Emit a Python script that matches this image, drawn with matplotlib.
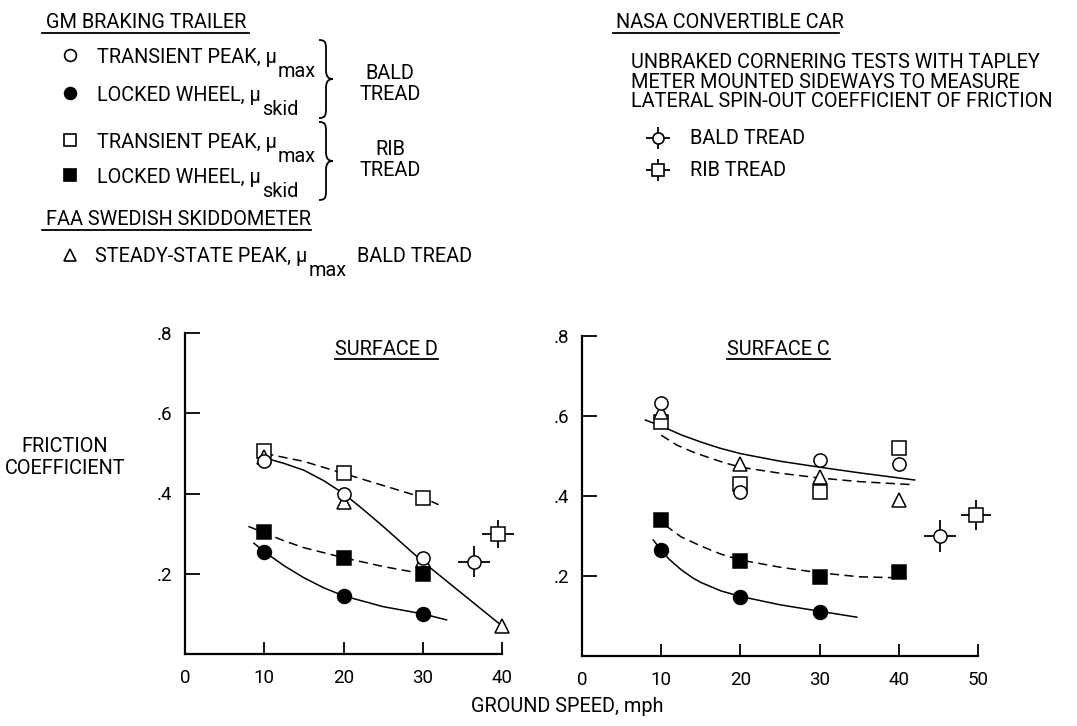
import matplotlib
matplotlib.use("Agg")
import matplotlib.pyplot as plt
from matplotlib.path import Path
from matplotlib.patches import PathPatch

FONT = ['Roboto', 'DejaVu Sans']
plt.rcParams['font.family'] = FONT
plt.rcParams['font.size'] = 14.3

# ---- Surface D ----
speed_d = [10, 20, 30]
d_bald_peak = [0.48, 0.40, 0.24]
d_bald_skid = [0.255, 0.145, 0.10]
d_rib_peak = [0.505, 0.45, 0.39]
d_rib_skid = [0.305, 0.24, 0.20]
speed_d_faa = [10, 20, 30, 40]
d_faa_peak = [0.49, 0.38, 0.235, 0.07]
# NASA car: speed, mu, speed spread, mu spread
d_nasa_bald = [36.5, 0.23, 2.0, 0.038]
d_nasa_rib = [39.5, 0.30, 2.0, 0.035]

# faired curves, surface D
d_curve_peak_x = [9.5, 12.5, 15, 17.5, 20, 22.5, 25, 27.5, 30, 35, 40]
d_curve_peak_y = [0.492, 0.475, 0.458, 0.432, 0.40, 0.36, 0.318, 0.274, 0.23, 0.15, 0.07]
d_curve_ribpk_x = [10, 15, 20, 25, 30, 32]
d_curve_ribpk_y = [0.50, 0.48, 0.45, 0.42, 0.39, 0.372]
d_curve_ribsk_x = [8, 10, 12.5, 15, 20, 25, 30]
d_curve_ribsk_y = [0.318, 0.302, 0.282, 0.265, 0.24, 0.218, 0.20]
d_curve_skid_x = [8.7, 10, 12.5, 15, 17.5, 20, 25, 30, 33]
d_curve_skid_y = [0.276, 0.255, 0.22, 0.19, 0.165, 0.145, 0.118, 0.10, 0.085]

# ---- Surface C ----
speed_c = [10, 20, 30, 40]
c_bald_peak = [0.632, 0.41, 0.49, 0.48]
speed_c_skid = [10, 20, 30]
c_bald_skid = [0.265, 0.148, 0.11]
c_rib_peak = [0.585, 0.43, 0.41, 0.52]
c_rib_skid = [0.34, 0.237, 0.197, 0.21]
c_faa_peak = [0.61, 0.48, 0.447, 0.39]
c_nasa_bald = [45.2, 0.30, 2.0, 0.04]
c_nasa_rib = [49.8, 0.352, 1.9, 0.037]

c_curve_peak_x = [8, 10, 12.5, 15, 17.5, 20, 25, 30, 35, 42]
c_curve_peak_y = [0.59, 0.575, 0.553, 0.535, 0.519, 0.506, 0.487, 0.472, 0.458, 0.44]
c_curve_faa_x = [10, 12, 14, 16, 18, 20, 25, 30, 35, 42]
c_curve_faa_y = [0.552, 0.527, 0.51, 0.496, 0.483, 0.472, 0.457, 0.445, 0.436, 0.428]
c_curve_ribsk_x = [10.5, 12.5, 15, 17.5, 20, 25, 30, 35, 41]
c_curve_ribsk_y = [0.327, 0.298, 0.275, 0.255, 0.24, 0.222, 0.208, 0.198, 0.195]
c_curve_skid_x = [9, 10, 11, 12.5, 14, 15, 17.5, 20, 25, 30, 34.7]
c_curve_skid_y = [0.29, 0.264, 0.242, 0.216, 0.195, 0.184, 0.163, 0.149, 0.128, 0.112, 0.097]

LW = 1.1
DASH = (0, (6, 3.5))
MS = 9.5


def style_axes(ax, xmax, xticks):
    ax.set_xlim(0, xmax)
    ax.set_ylim(0, 0.8)
    for side in ['top', 'right']:
        ax.spines[side].set_visible(False)
    for side in ['left', 'bottom']:
        ax.spines[side].set_linewidth(1.6)
    ax.set_xticks(xticks)
    ax.set_xticklabels([str(t) for t in xticks])
    ax.set_yticks([0.2, 0.4, 0.6, 0.8])
    ax.set_yticklabels(['.2', '.4', '.6', '.8'])
    ax.tick_params(axis='x', direction='in', length=9, width=1.3, pad=11, labelsize=13.5)
    ax.tick_params(axis='y', direction='in', length=11, width=1.3, pad=9, labelsize=13.5)
    ax.patch.set_visible(False)


def draw_points(ax, x, y, marker, filled):
    face = 'black' if filled else 'white'
    ax.plot(x, y, ls='none', marker=marker, ms=MS + (0.5 if filled else 0), mfc=face,
            mec='black', mew=1.1, clip_on=False, zorder=4)


def draw_nasa(ax, pt, marker):
    ax.errorbar(pt[0], pt[1], xerr=pt[2], yerr=pt[3], fmt=marker, ms=MS, mfc='white',
                mec='black', mew=1.1, ecolor='black', elinewidth=1.3, capsize=0,
                clip_on=False, zorder=4)


fig = plt.figure(figsize=(10.77, 7.26), dpi=100)

# overlay in pixel units for the key and free labels
ov = fig.add_axes([0, 0, 1, 1])
ov.set_xlim(0, 1077)
ov.set_ylim(726, 0)
ov.axis('off')

ax_d = fig.add_axes([185 / 1077, 1 - 654 / 726, 317 / 1077, 321 / 726])
ax_c = fig.add_axes([582 / 1077, 1 - 656 / 726, 396 / 1077, 320 / 726])

# ---- Surface D ----
ax_d.plot(d_curve_peak_x, d_curve_peak_y, color='black', lw=LW, clip_on=False)
ax_d.plot(d_curve_ribpk_x, d_curve_ribpk_y, color='black', lw=LW, ls=DASH)
ax_d.plot(d_curve_ribsk_x, d_curve_ribsk_y, color='black', lw=LW, ls=DASH)
ax_d.plot(d_curve_skid_x, d_curve_skid_y, color='black', lw=LW)
draw_points(ax_d, speed_d, d_rib_peak, 's', False)
draw_points(ax_d, speed_d_faa, d_faa_peak, '^', False)
draw_points(ax_d, speed_d, d_bald_peak, 'o', False)
draw_points(ax_d, speed_d, d_rib_skid, 's', True)
draw_points(ax_d, speed_d, d_bald_skid, 'o', True)
draw_nasa(ax_d, d_nasa_bald, 'o')
draw_nasa(ax_d, d_nasa_rib, 's')
style_axes(ax_d, 40, [0, 10, 20, 30, 40])

# ---- Surface C ----
ax_c.plot(c_curve_peak_x, c_curve_peak_y, color='black', lw=LW)
ax_c.plot(c_curve_faa_x, c_curve_faa_y, color='black', lw=LW, ls=DASH)
ax_c.plot(c_curve_ribsk_x, c_curve_ribsk_y, color='black', lw=LW, ls=DASH)
ax_c.plot(c_curve_skid_x, c_curve_skid_y, color='black', lw=LW)
draw_points(ax_c, speed_c, c_rib_peak, 's', False)
draw_points(ax_c, speed_c, c_faa_peak, '^', False)
draw_points(ax_c, speed_c, c_bald_peak, 'o', False)
draw_points(ax_c, speed_c, c_rib_skid, 's', True)
draw_points(ax_c, speed_c_skid, c_bald_skid, 'o', True)
draw_nasa(ax_c, c_nasa_bald, 'o')
draw_nasa(ax_c, c_nasa_rib, 's')
style_axes(ax_c, 50, [0, 10, 20, 30, 40, 50])

# ---- free labels ----
ov.text(386, 355, 'SURFACE D', ha='center', va='baseline')
ov.plot([335, 438], [359, 359], color='black', lw=1.3)
ov.text(778, 355, 'SURFACE C', ha='center', va='baseline')
ov.plot([727, 830], [359, 359], color='black', lw=1.3)
ov.text(65, 458, 'FRICTION\nCOEFFICIENT', ha='center', va='center', linespacing=1.2)
ov.text(567, 706, 'GROUND SPEED, mph', ha='center', va='center')

renderer = fig.canvas.get_renderer()


def text_sub(x, y, main, sub, tail=None, tail_x=None):
    t = ov.text(x, y, main, ha='left', va='baseline')
    x_end = t.get_window_extent(renderer).x1
    s = ov.text(x_end + 1, y + 14, sub, ha='left', va='baseline')
    if tail:
        ov.text(tail_x, y, tail, ha='left', va='baseline')
    return s


def brace(x0, y0, y1, w):
    ym = (y0 + y1) / 2
    q = 9
    xm = x0 + w / 2
    verts = [(x0, y0), (xm * 0.5 + x0 * 0.5 + w * 0.2, y0), (xm, y0 + q * 0.3), (xm, y0 + q),
             (xm, ym - q),
             (xm, ym - q * 0.3), (x0 + w * 0.65, ym), (x0 + w, ym),
             (x0 + w * 0.65, ym), (xm, ym + q * 0.3), (xm, ym + q),
             (xm, y1 - q),
             (xm, y1 - q * 0.3), (xm * 0.5 + x0 * 0.5 + w * 0.2, y1), (x0, y1)]
    codes = [Path.MOVETO, Path.CURVE4, Path.CURVE4, Path.CURVE4, Path.LINETO,
             Path.CURVE4, Path.CURVE4, Path.CURVE4,
             Path.CURVE4, Path.CURVE4, Path.CURVE4, Path.LINETO,
             Path.CURVE4, Path.CURVE4, Path.CURVE4]
    ov.add_patch(PathPatch(Path(verts, codes), fc='none', ec='black', lw=1.3))


# GM braking trailer key
ov.text(46, 28, 'GM BRAKING TRAILER', ha='left', va='baseline')
ov.plot([42, 249], [33, 33], color='black', lw=1.3)
key_y = [55, 93, 140, 175]
key_marker = ['o', 'o', 's', 's']
key_fill = ['white', 'black', 'white', 'black']
key_main = ['TRANSIENT PEAK, μ', 'LOCKED WHEEL, μ', 'TRANSIENT PEAK, μ', 'LOCKED WHEEL, μ']
key_sub = ['max', 'skid', 'max', 'skid']
for ky, km, kf, kt, ks in zip(key_y, key_marker, key_fill, key_main, key_sub):
    ov.plot(70, ky, marker=km, ms=8.5, mfc=kf, mec='black', mew=1.2, ls='none')
    text_sub(97, ky + 8, kt, ks)
brace(319, 40, 118, 14)
brace(319, 122, 200, 14)
ov.text(390, 84, 'BALD\nTREAD', ha='center', va='center', linespacing=1.1)
ov.text(390, 160, 'RIB\nTREAD', ha='center', va='center', linespacing=1.1)

# FAA skiddometer key
ov.text(46, 225, 'FAA SWEDISH SKIDDOMETER', ha='left', va='baseline')
ov.plot([42, 311], [230, 230], color='black', lw=1.3)
ov.plot(70, 255, marker='^', ms=8.5, mfc='white', mec='black', mew=1.2, ls='none')
text_sub(95, 262, 'STEADY-STATE PEAK, μ', 'max', tail='BALD TREAD', tail_x=357)

# NASA key
ov.text(616, 28, 'NASA CONVERTIBLE CAR', ha='left', va='baseline')
ov.plot([613, 839], [33, 33], color='black', lw=1.3)
ov.text(631, 82, 'UNBRAKED CORNERING TESTS WITH TAPLEY\nMETER MOUNTED SIDEWAYS TO MEASURE\n'
        'LATERAL SPIN-OUT COEFFICIENT OF FRICTION', ha='left', va='center', linespacing=1.05)
nasa_key_y = [138, 170]
nasa_key_marker = ['o', 's']
nasa_key_text = ['BALD TREAD', 'RIB TREAD']
for ny, nm, nt in zip(nasa_key_y, nasa_key_marker, nasa_key_text):
    ov.errorbar(658, ny, xerr=12, yerr=11, fmt=nm, ms=8, mfc='white', mec='black', mew=1.2,
                ecolor='black', elinewidth=1.3, capsize=0)
    ov.text(690, ny, nt, ha='left', va='center')

fig.savefig('out.png', dpi=100)
